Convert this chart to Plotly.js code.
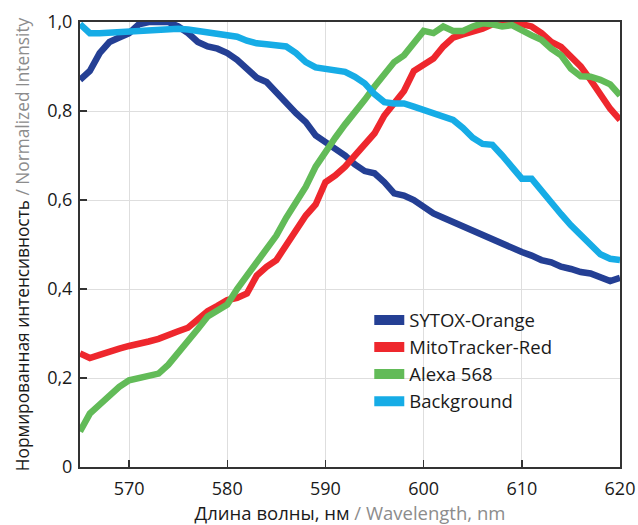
<!DOCTYPE html>
<html>
<head>
<meta charset="utf-8">
<script src="https://cdn.plot.ly/plotly-3.0.1.min.js"></script>
<style>html,body{margin:0;padding:0;background:#fff;}#chart{width:638px;height:525px;}</style>
</head>
<body>
<div id="chart"></div>
<script>
// Wavelength, nm
var wavelength = [565,566,567,568,569,570,571,572,573,574,575,576,577,578,579,580,581,582,583,584,585,586,587,588,589,590,591,592,593,594,595,596,597,598,599,600,601,602,603,604,605,606,607,608,609,610,611,612,613,614,615,616,617,618,619,620];

var sytoxOrange = [0.87,0.89,0.93,0.955,0.965,0.975,0.995,1.0,1.0,1.0,0.99,0.975,0.955,0.945,0.94,0.93,0.915,0.895,0.875,0.865,0.84,0.815,0.795,0.775,0.745,0.73,0.715,0.70,0.68,0.665,0.66,0.64,0.615,0.61,0.60,0.585,0.57,0.56,0.55,0.54,0.53,0.52,0.51,0.50,0.49,0.483,0.475,0.465,0.46,0.45,0.445,0.438,0.435,0.425,0.418,0.425];

var mitoTrackerRed = [0.255,0.245,0.252,0.26,0.266,0.272,0.276,0.282,0.288,0.298,0.305,0.313,0.33,0.35,0.362,0.375,0.38,0.39,0.43,0.45,0.465,0.50,0.535,0.565,0.59,0.64,0.655,0.675,0.70,0.725,0.75,0.79,0.82,0.845,0.89,0.905,0.918,0.945,0.965,0.972,0.977,0.985,0.995,1.0,1.0,0.995,0.99,0.975,0.955,0.944,0.92,0.90,0.87,0.835,0.805,0.78];

var alexa568 = [0.08,0.12,0.14,0.16,0.18,0.195,0.20,0.205,0.21,0.23,0.255,0.28,0.31,0.338,0.35,0.365,0.40,0.43,0.46,0.485,0.52,0.56,0.595,0.63,0.675,0.71,0.74,0.77,0.795,0.825,0.855,0.88,0.91,0.925,0.955,0.98,0.975,0.99,0.98,0.98,0.99,0.997,0.995,0.99,0.993,0.98,0.97,0.96,0.94,0.925,0.895,0.878,0.877,0.87,0.86,0.835];

var background = [0.995,0.975,0.975,0.976,0.977,0.978,0.98,0.982,0.984,0.985,0.985,0.983,0.98,0.979,0.976,0.972,0.967,0.958,0.952,0.95,0.948,0.945,0.93,0.91,0.898,0.895,0.893,0.888,0.877,0.862,0.838,0.82,0.817,0.817,0.81,0.803,0.797,0.79,0.78,0.762,0.74,0.726,0.724,0.70,0.672,0.648,0.648,0.62,0.595,0.568,0.543,0.52,0.497,0.478,0.468,0.465];

var seriesNames = ["SYTOX-Orange","MitoTracker-Red","Alexa 568","Background"];
var seriesColors = ["#243f94","#ee272d","#62bb58","#16ace6"];
var seriesData = [sytoxOrange, mitoTrackerRed, alexa568, background];

var xTickVals = [570,580,590,600,610,620];
var xTickText = ["570","580","590","600","610","620"];
var yTickVals = [0,0.2,0.4,0.6,0.8,1.0];
var yTickText = ["0","0,2","0,4","0,6","0,8","1,0"];

var traces = [];
// data curves
for (var i = 0; i < seriesData.length; i++) {
  traces.push({
    x: wavelength, y: seriesData[i], type: "scatter", mode: "lines",
    name: seriesNames[i], showlegend: false,
    line: {color: seriesColors[i], width: 6.5, shape: "linear"},
    hoverinfo: "x+y+name"
  });
}
// legend entries (rectangular swatches)
for (var j = 0; j < seriesNames.length; j++) {
  traces.push({
    x: [null], y: [null], type: "scatter", mode: "lines",
    name: seriesNames[j], showlegend: true,
    line: {color: seriesColors[j], width: 14}
  });
}

var fontFamily = "'Open Sans', 'Noto Sans', 'DejaVu Sans', sans-serif";

var layout = {
  width: 638, height: 525,
  margin: {l: 80, r: 18, t: 22, b: 58},
  paper_bgcolor: "#ffffff", plot_bgcolor: "#ffffff",
  font: {family: fontFamily, size: 18, color: "#1a1a1a"},
  showlegend: true,
  legend: {
    x: 0.5357, y: 0.372, xanchor: "left", yanchor: "top",
    bgcolor: "rgba(0,0,0,0)", borderwidth: 0,
    font: {family: fontFamily, size: 18.5, color: "#1a1a1a"},
    tracegroupgap: 0, itemwidth: 30
  },
  xaxis: {
    range: [565, 620], tickvals: xTickVals, ticktext: xTickText,
    ticks: "inside", ticklen: 7, tickwidth: 1.5, tickcolor: "#333",
    showgrid: true, gridcolor: "#dedede", gridwidth: 1,
    showline: true, linecolor: "#333", linewidth: 2, mirror: true,
    zeroline: false, ticklabelstandoff: 4,
    tickfont: {size: 18, color: "#1a1a1a"},
    title: {text: "Длина волны, нм <span style=\"color:#8c8c8c\">/ Wavelength, nm</span>", font: {size: 18.5, color: "#1a1a1a"}, standoff: 6}
  },
  yaxis: {
    range: [0, 1.0], tickvals: yTickVals, ticktext: yTickText,
    ticks: "inside", ticklen: 7, tickwidth: 1.5, tickcolor: "#333",
    showgrid: true, gridcolor: "#dedede", gridwidth: 1,
    showline: true, linecolor: "#333", linewidth: 2, mirror: true,
    zeroline: false, ticklabelstandoff: 2,
    tickfont: {size: 18, color: "#1a1a1a"},
    title: {text: "Нормированная интенсивность <span style=\"color:#8c8c8c\">/ Normalized Intensity</span>", font: {size: 17.3, color: "#1a1a1a"}, standoff: 13}
  }
};

Plotly.newPlot("chart", traces, layout, {displayModeBar: false, staticPlot: true});
</script>
</body>
</html>
